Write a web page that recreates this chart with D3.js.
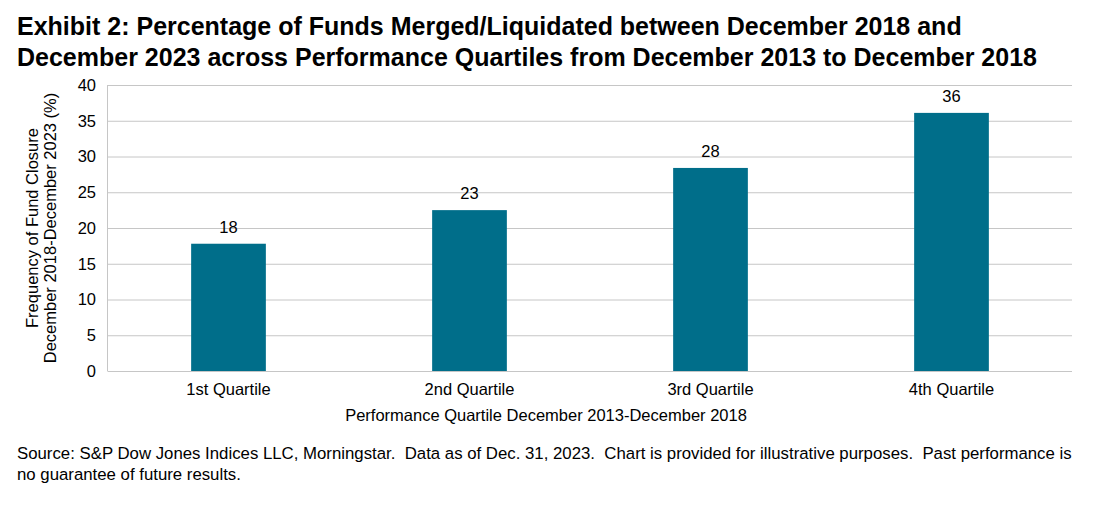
<!DOCTYPE html>
<html><head><meta charset="utf-8">
<script src="https://cdn.jsdelivr.net/npm/d3@7"></script>
<style>body{margin:0;background:#fff;}svg{display:block;font-family:"Liberation Sans",Arial,sans-serif;}text{white-space:pre;}</style>
</head><body>
<svg id="c" width="1103" height="505"></svg>
<script>
const categories = ["1st Quartile","2nd Quartile","3rd Quartile","4th Quartile"];
const values = [17.8, 22.5, 28.4, 36.1];
const labels = ["18","23","28","36"];
const yTicks = [0,5,10,15,20,25,30,35,40];
const titleLines = ["Exhibit 2: Percentage of Funds Merged/Liquidated between December 2018 and",
  "December 2023 across Performance Quartiles from December 2013 to December 2018"];
const yTitleLines = ["Frequency of Fund Closure","December 2018-December 2023 (%)"];
const xTitle = "Performance Quartile December 2013-December 2018";
const sourceLines = ["Source: S&P Dow Jones Indices LLC, Morningstar.  Data as of Dec. 31, 2023.  Chart is provided for illustrative purposes.  Past performance is",
  "no guarantee of future results."];

const svg = d3.select("#c");
const L=108, R=1072, T=85, B=371;
const FS = 16.5;
const x = d3.scaleBand().domain(categories).range([L,R]).paddingInner(0.69).paddingOuter(0.345);
const y = d3.scaleLinear().domain([0,40]).range([B,T]);

svg.selectAll("text.title").data(titleLines).join("text")
  .attr("x",17).attr("y",(d,i)=>35+i*31).attr("font-size",25).attr("font-weight","bold").attr("fill","#000").text(d=>d);

// gridlines
svg.append("g").selectAll("line").data(yTicks).join("line")
  .attr("x1",L).attr("x2",R).attr("y1",d=>y(d)+0.5).attr("y2",d=>y(d)+0.5)
  .attr("stroke","#c6c6c6").attr("stroke-width",1);
// left axis line
svg.append("line").attr("x1",L-0.5).attr("x2",L-0.5).attr("y1",T).attr("y2",B+0.5).attr("stroke","#c6c6c6");

const ya = svg.append("g").attr("transform",`translate(${L},0)`).call(d3.axisLeft(y).tickValues(yTicks).tickSize(0).tickPadding(12));
ya.select(".domain").remove();
ya.selectAll("text").attr("font-size",FS).attr("fill","#000").attr("font-family","Liberation Sans, Arial, sans-serif");

svg.append("g").selectAll("rect").data(values).join("rect")
  .attr("x",(d,i)=>x(categories[i])).attr("width",x.bandwidth())
  .attr("y",d=>y(d)).attr("height",d=>B-y(d)).attr("fill","#006e8a");

svg.append("g").selectAll("text").data(values).join("text")
  .attr("x",(d,i)=>x(categories[i])+x.bandwidth()/2).attr("y",d=>y(d)-11)
  .attr("text-anchor","middle").attr("font-size",FS).attr("fill","#000").text((d,i)=>labels[i]);

const xa = svg.append("g").attr("transform",`translate(0,${B})`).call(d3.axisBottom(x).tickSize(0).tickPadding(12));
xa.select(".domain").remove();
xa.selectAll("text").attr("font-size",FS).attr("fill","#000").attr("font-family","Liberation Sans, Arial, sans-serif");

svg.append("text").attr("x",(L+R)/2-44).attr("y",421).attr("text-anchor","middle").attr("font-size",FS).text(xTitle);

svg.selectAll("text.yt").data(yTitleLines).join("text")
  .attr("transform",(d,i)=>`translate(${38+i*18},228) rotate(-90)`).attr("text-anchor","middle").attr("font-size",FS).text(d=>d);

svg.selectAll("text.src").data(sourceLines).join("text")
  .attr("x",17).attr("y",(d,i)=>459+i*21).attr("font-size",16.8).text(d=>d);
</script>
</body></html>
